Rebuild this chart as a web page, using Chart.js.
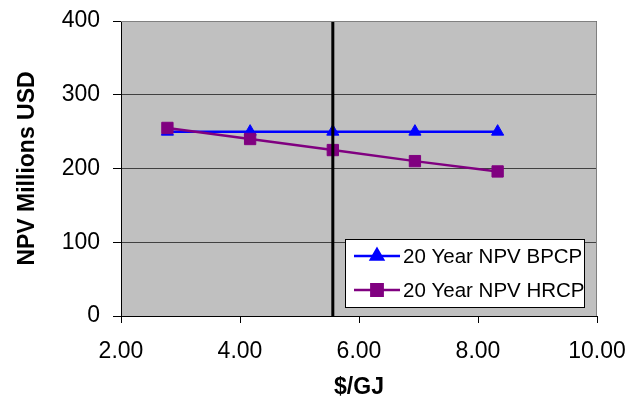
<!DOCTYPE html>
<html>
<head>
<meta charset="utf-8">
<script src="https://cdn.jsdelivr.net/npm/chart.js@4.4.1/dist/chart.umd.min.js"></script>
<style>
html,body{margin:0;padding:0;background:#fff;}
#wrap{width:639px;height:401px;}
</style>
</head>
<body>
<div id="wrap"><canvas id="c" width="639" height="401"></canvas></div>
<script>
const xValues = [2.78, 4.17, 5.56, 6.94, 8.33];
const bpcpValues = [250, 250, 250, 250, 250];
const hrcpValues = [255, 240, 225, 210, 196];
const markerX = 5.56;
const markerYRange = [0, 400];
const seriesLabels = ['20 Year NPV BPCP', '20 Year NPV HRCP'];
const xTickValues = [2, 4, 6, 8, 10];
const yTickValues = [0, 100, 200, 300, 400];

const FONT = "'Liberation Sans', Arial, sans-serif";

const toPoints = (xs, ys) => xs.map((x, i) => ({x: x, y: ys[i]}));

const bgPlugin = {
  id: 'plotBg',
  beforeDraw(chart) {
    const {ctx, chartArea: a} = chart;
    ctx.save();
    ctx.fillStyle = '#C0C0C0';
    ctx.fillRect(a.left, a.top, a.right - a.left, a.bottom - a.top);
    ctx.restore();
  },
  afterDatasetsDraw(chart) {
    const {ctx, chartArea: a} = chart;
    ctx.save();
    ctx.strokeStyle = '#808080';
    ctx.lineWidth = 1;
    ctx.beginPath();
    ctx.moveTo(a.left, a.top + 0.5);
    ctx.lineTo(a.right - 0.5, a.top + 0.5);
    ctx.lineTo(a.right - 0.5, a.bottom);
    ctx.stroke();
    ctx.restore();
  }
};

const legendPlugin = {
  id: 'insideLegend',
  afterDraw(chart) {
    const {ctx, chartArea: a} = chart;
    const w = 240, h = 69;
    const x0 = a.right - 12 - w, y0 = a.bottom - 8 - h;
    ctx.save();
    ctx.fillStyle = '#fff';
    ctx.fillRect(x0, y0, w, h);
    ctx.strokeStyle = '#000';
    ctx.lineWidth = 1;
    ctx.strokeRect(x0 + 0.5, y0 + 0.5, w - 1, h - 1);
    const rows = chart.data.datasets.filter(d => d.label);
    rows.forEach((d, i) => {
      const cy = y0 + 17 + i * 34;
      ctx.strokeStyle = d.borderColor;
      ctx.lineWidth = d.borderWidth;
      ctx.beginPath();
      ctx.moveTo(x0 + 9, cy);
      ctx.lineTo(x0 + 55, cy);
      ctx.stroke();
      Chart.helpers.drawPoint(ctx, {pointStyle: d.pointStyle, radius: d.pointRadius, borderWidth: 1}, x0 + 32, cy);
      ctx.fillStyle = d.pointBackgroundColor;
      ctx.strokeStyle = d.pointBorderColor;
      ctx.lineWidth = 1;
      ctx.fill();
      ctx.fillStyle = '#000';
      ctx.font = '20.5px ' + FONT;
      ctx.textBaseline = 'middle';
      ctx.textAlign = 'left';
      ctx.fillText(d.label, x0 + 58, cy + 1);
    });
    ctx.restore();
  }
};

new Chart(document.getElementById('c'), {
  type: 'scatter',
  data: {
    datasets: [
      {
        label: seriesLabels[0],
        data: toPoints(xValues, bpcpValues),
        showLine: true,
        borderColor: '#0000FF',
        backgroundColor: '#0000FF',
        pointBackgroundColor: '#0000FF',
        pointBorderColor: '#0000FF',
        borderWidth: 2.5,
        pointStyle: 'triangle',
        pointRadius: 7,
        pointBorderWidth: 1,
        order: 3
      },
      {
        label: seriesLabels[1],
        data: toPoints(xValues, hrcpValues),
        showLine: true,
        borderColor: '#800080',
        backgroundColor: '#800080',
        pointBackgroundColor: '#800080',
        pointBorderColor: '#800080',
        borderWidth: 2.5,
        pointStyle: 'rect',
        pointRadius: 8,
        pointBorderWidth: 1,
        order: 2
      },
      {
        label: '',
        data: markerYRange.map(y => ({x: markerX, y: y})),
        showLine: true,
        borderColor: '#000',
        borderWidth: 3,
        pointRadius: 0,
        order: 1
      }
    ]
  },
  options: {
    responsive: false,
    animation: false,
    layout: {padding: {top: 21, right: 42, left: 0, bottom: 0}},
    plugins: {
      legend: {display: false},
      tooltip: {enabled: false}
    },
    scales: {
      x: {
        type: 'linear',
        min: 2, max: 10,
        afterBuildTicks: s => { s.ticks = xTickValues.map(v => ({value: v})); },
        afterFit: s => { s.height = 85; s.paddingLeft = 0; s.paddingRight = 0; },
        grid: {drawOnChartArea: false, drawTicks: true, tickLength: 7, color: '#000', tickColor: '#000'},
        border: {color: '#000', width: 1},
        ticks: {color: '#000', font: {family: FONT, size: 23}, padding: 15, callback: v => Number(v).toFixed(2), maxRotation: 0},
        title: {display: true, text: '$/GJ', color: '#000', font: {family: FONT, size: 23, weight: 'bold'}, padding: {top: 0, bottom: 0}}
      },
      y: {
        type: 'linear',
        min: 0, max: 400,
        afterBuildTicks: s => { s.ticks = yTickValues.map(v => ({value: v})); },
        afterFit: s => { s.width = 121; s.paddingTop = 0; s.paddingBottom = 0; },
        grid: {drawOnChartArea: true, drawTicks: true, tickLength: 8, color: '#404040', tickColor: '#000'},
        border: {color: '#000', width: 1},
        ticks: {color: '#000', font: {family: FONT, size: 23}, padding: 13},
        title: {display: true, text: 'NPV Millions USD', color: '#000', font: {family: FONT, size: 23, weight: 'bold'}, padding: {top: 14, bottom: 0}}
      }
    }
  },
  plugins: [bgPlugin, legendPlugin]
});
</script>
</body>
</html>
